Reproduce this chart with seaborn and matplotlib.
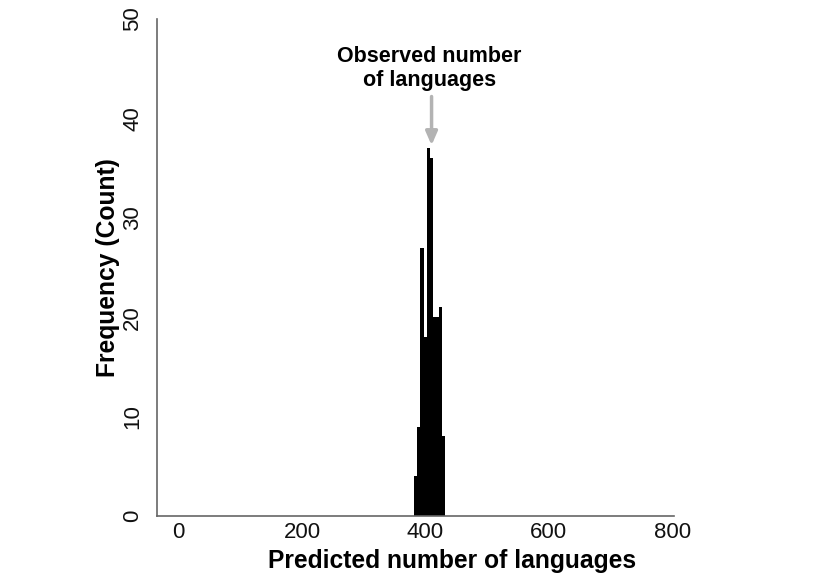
import numpy as np
import pandas as pd
import matplotlib.pyplot as plt
import seaborn as sns

# --------------------------
# Histogram data (bin width 5)
# --------------------------
bin_edges = [382, 387, 392, 397, 402, 407, 412, 417, 422, 427, 432]
counts = [4, 9, 27, 18, 37, 36, 20, 20, 21, 8]
observed = 410

x_ticks = [0, 200, 400, 600, 800]
y_ticks = [0, 10, 20, 30, 40, 50]

df = pd.DataFrame(
    {
        "centre": [(a + b) / 2 for a, b in zip(bin_edges[:-1], bin_edges[1:])],
        "count": counts,
    }
)

sns.set_style("white")
plt.rcParams["font.family"] = ["Liberation Sans", "DejaVu Sans"]
plt.rcParams["text.color"] = "black"
plt.rcParams["axes.labelcolor"] = "black"

fig = plt.figure(figsize=(8.19, 5.83), dpi=100)
ax = fig.add_axes([0.1917, 0.115, 0.6313, 0.8524])

sns.histplot(
    data=df,
    x="centre",
    weights="count",
    bins=bin_edges,
    color="black",
    edgecolor="black",
    linewidth=0,
    alpha=1,
    ax=ax,
)

ax.set_xlim(-35, 803)
ax.set_ylim(0, 50)
ax.set_xticks(x_ticks)
ax.set_yticks(y_ticks)
ax.tick_params(axis="x", length=0, pad=4, labelsize=16, colors="#111111")
ax.tick_params(axis="y", length=0, pad=10, labelsize=16, colors="#111111")
for lab in ax.get_yticklabels():
    lab.set_rotation(90)
    lab.set_va("center")

for s in ["top", "right"]:
    ax.spines[s].set_visible(False)
for s in ["left", "bottom"]:
    ax.spines[s].set_color("#666666")
    ax.spines[s].set_linewidth(1.2)

ax.set_xlabel("Predicted number of languages", fontsize=17.7, fontweight="bold",
              color="black")
ax.set_ylabel("Frequency (Count)", fontsize=17.7, fontweight="bold", color="black")
ax.xaxis.set_label_coords(0.571, -0.066)
ax.yaxis.set_label_coords(-0.072, 0.5)

# observed value marker
ax.annotate(
    "",
    xy=(observed, 37.3),
    xytext=(observed, 42.2),
    arrowprops=dict(arrowstyle="-|>,head_width=0.35,head_length=0.8",
                    color="#b3b3b3", lw=2.5, shrinkA=0, shrinkB=0),
)
ax.text(406, 45.0, "Observed number\nof languages", ha="center", va="center",
        fontsize=15.5, fontweight="bold", linespacing=1.2, color="black")

plt.savefig("out.png", dpi=100)
